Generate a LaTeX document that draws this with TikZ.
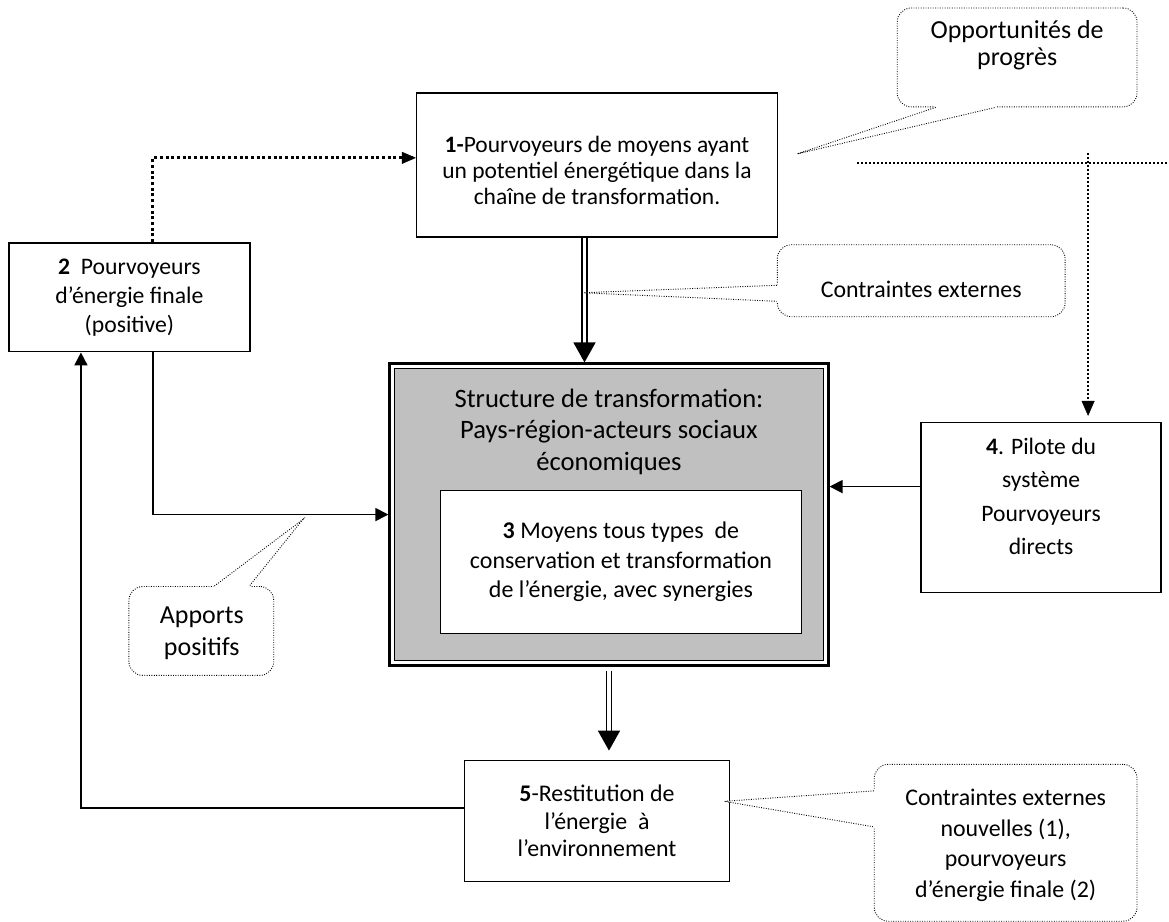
\documentclass[tikz,border=0pt]{standalone}
\usepackage{fontspec}
\setmainfont{Carlito}
\usetikzlibrary{arrows.meta,calc}

\definecolor{panel}{HTML}{C0C0C0}
\newcommand\setfs[2]{\fontsize{#1}{#2}\selectfont}

\tikzset{
  x=1pt, y=-1pt,
  box/.style      = {draw, line width=1.5pt, fill=white, align=center, inner sep=0pt},
  mainbox/.style  = {draw, line width=2.6pt, fill=white, inner sep=0pt},
  txt/.style      = {align=center, inner sep=0pt},
  callout/.style  = {draw, line width=0.9pt, dash pattern=on 0.9pt off 1.5pt,
                     rounded corners=14pt, fill=white, align=center, inner sep=0pt},
  tail/.style     = {line width=0.9pt, dash pattern=on 0.9pt off 1.5pt},
  cover/.style    = {fill=white},
  link/.style     = {line width=1.8pt, -{Triangle[width=13pt,length=13pt]}},
  dbl/.style      = {double=white, double distance=3.2pt, line width=1.6pt,
                     -{Triangle[width=22pt,length=20pt,fill=black]}},
  bigdots/.style  = {line width=3pt, dash pattern=on 3pt off 2.7pt},
  dots/.style     = {line width=2pt, dash pattern=on 2pt off 2pt}
}

\begin{document}
\begin{tikzpicture}
\path[fill=white] (0,0) rectangle (1169,914);

% boxes
\node [box, minimum width=361pt, minimum height=144pt] (box1) at (597.5,165) {};
\node [txt, font=\setfs{23.5}{26}] (box1txt) at (597.5,171)
  {\textbf{1-}Pourvoyeurs de moyens ayant\\un potentiel énergétique dans la\\chaîne de transformation.};
\node [box, minimum width=241pt, minimum height=109pt, font=\setfs{23.7}{29}] (box2) at (129.5,297.5)
  {\textbf{2}\ \ Pourvoyeurs\\d’énergie finale\\(positive)};
\node [box, minimum width=240pt, minimum height=170pt] (box4) at (1042,508) {};
\node [txt, font=\setfs{23.6}{33.5}] (box4txt) at (1042,497)
  {\textbf{4}. Pilote du\\système\\Pourvoyeurs\\directs};
\node [box, minimum width=265pt, minimum height=121pt, font=\setfs{23.9}{28}] (box5) at (597.5,821.5)
  {\textbf{5}-Restitution de\\l’énergie\ \ à\\l’environnement};

% structure de transformation
\node [mainbox, minimum width=439pt, minimum height=302pt] (main) at (609.5,515) {};
\draw [line width=1.2pt, fill=panel] ($(main.north west)+(6,6)$) rectangle ($(main.south east)+(-6,-6)$);
\node [txt, font=\setfs{26.6}{31.5}] (maintxt) at (609.5,432)
  {Structure de transformation:\\Pays-région-acteurs sociaux\\économiques};
\node [box, minimum width=361pt, minimum height=143pt, font=\setfs{24}{29.5}] (box3) at (621.5,562.5)
  {\textbf{3} Moyens tous types\ \ de\\conservation et transformation\\de l’énergie, avec synergies};

% connectors
\draw [bigdots] ([xshift=23.5pt]box2.north) |- ([yshift=7pt]box1.west);
\draw [-{Triangle[width=12pt,length=14pt]}] ([yshift=7pt,xshift=-14pt]box1.west) -- ([yshift=7pt]box1.west);
\draw [dbl] ([xshift=-12.5pt]box1.south) -- ([xshift=-12.5pt]box1.south |- main.north);
\draw [link] ([xshift=23.5pt]box2.south) |- (main.west);
\draw [link] ([yshift=21pt]box4.west) -- ([yshift=21pt]box4.west -| main.east);
\draw [dbl, shorten >=9pt] ([yshift=-4pt]main.south) -- (main.south |- box5.north);
\draw [link] ([yshift=12.5pt]box5.west) -| ([xshift=-48.5pt]box2.south);

\coordinate (d1) at (858,163);
\coordinate (d2) at (1169,163);
\coordinate (d3) at (1089,153);
\draw [dots] (d1) -- (d2);
\draw [dots] (d3) -- ([yshift=20pt]d3 |- box4.north);
\draw [-{Triangle[width=13pt,length=15pt]}] ([yshift=21pt]d3 |- box4.north) -- ([yshift=6pt]d3 |- box4.north);

% callouts
\node [callout, minimum width=240pt, minimum height=99pt] (opp) at (1018,57.5) {};
\node [txt, font=\setfs{26}{27}] (opptxt) at (1018,45) {Opportunités de\\progrès};
\coordinate (opptip) at (798,154);
\fill [cover] ($(opp.south west)+(38,-2)$) -- ($(opp.south west)+(38,0.5)$) -- (opptip)
  -- ($(opp.south west)+(100,0.5)$) -- ($(opp.south west)+(100,-2)$) -- cycle;
\draw [tail] ($(opp.south west)+(39,0)$) -- (opptip) -- ($(opp.south west)+(99,0)$);

\node [callout, minimum width=288pt, minimum height=72pt] (cext) at (922,281) {};
\node [txt, font=\setfs{23.9}{29}] (cexttxt) at (922,290) {Contraintes externes};
\coordinate (cexttip) at (583,293);
\fill [cover] ($(cext.north west)+(2,40)$) -- ($(cext.north west)+(-0.5,40)$) -- (cexttip)
  -- ($(cext.north west)+(-0.5,58)$) -- ($(cext.north west)+(2,58)$) -- cycle;
\draw [tail] ($(cext.north west)+(0,41)$) -- (cexttip) -- ($(cext.north west)+(0,57)$);

\node [callout, minimum width=145pt, minimum height=89pt] (app) at (201.5,631.5) {};
\node [txt, font=\setfs{26}{32}] (apptxt) at (202,634) {Apports\\positifs};
\coordinate (apptip) at (303,520);
\fill [cover] ($(app.north west)+(85,2)$) -- ($(app.north west)+(85,-0.5)$) -- (apptip)
  -- ($(app.north west)+(122,-0.5)$) -- ($(app.north west)+(122,2)$) -- cycle;
\draw [tail] ($(app.north west)+(86,0)$) -- (apptip) -- ($(app.north west)+(121,0)$);

\node [callout, minimum width=263pt, minimum height=157pt] (cnew) at (1006.5,843.5) {};
\node [txt, font=\setfs{23.9}{30.5}] (cnewtxt) at (1006.5,846)
  {Contraintes externes\\nouvelles (1),\\pourvoyeurs\\d’énergie finale (2)};
\coordinate (cnewtip) at (725,802);
\fill [cover] ($(cnew.north west)+(2,26)$) -- ($(cnew.north west)+(-0.5,26)$) -- (cnewtip)
  -- ($(cnew.north west)+(-0.5,64)$) -- ($(cnew.north west)+(2,64)$) -- cycle;
\draw [tail] ($(cnew.north west)+(0,27)$) -- (cnewtip) -- ($(cnew.north west)+(0,63)$);
\end{tikzpicture}
\end{document}
